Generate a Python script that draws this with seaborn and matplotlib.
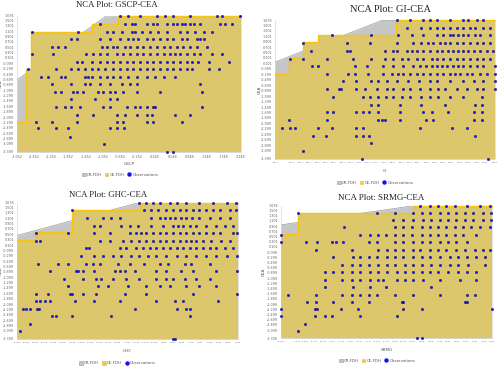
import numpy as np
import pandas as pd
import matplotlib
matplotlib.use("Agg")
import matplotlib.pyplot as plt
import seaborn as sns
from matplotlib.patches import Patch
from matplotlib.lines import Line2D

# ---- data ----
CEA_MIN, CEA_MAX = -3.399, 1.676

# GSCP-CEA
gscp_lim = (-3.052, 2.148)
gscp_ce_x = [-3.052, -2.835, -2.718, -1.322, -0.700, 2.148]
gscp_ce_y = [-2.278, -0.319, 1.065, 1.377, 1.676, 1.676]
gscp_cr_x = [-3.052, -0.972]
gscp_cr_y = [-0.718, 1.676]
gscp_levels = [1.676, 1.377, 1.065, 0.803, 0.529, 0.254, -0.032, -0.319, -0.618,
               -0.868, -1.155, -1.442, -1.716, -2.028, -2.277, -2.526, -2.838, -3.112, -3.399]
gscp_rows = [
    [-0.66, -0.47, -0.20, 0.19, 0.39, 0.58, 0.97, 1.59, 1.71, 2.13],
    [-1.13, -0.55, -0.39, -0.31, -0.04, 0.11, 0.19, 0.43, 0.58, 0.66, 0.77, 0.85, 0.97, 1.05, 1.20, 1.67, 1.78, 1.94],
    [-2.70, -1.63, -0.97, -0.82, -0.62, -0.39, -0.31, -0.16, 0.04, 0.23, 0.43, 0.74, 0.89, 1.08, 1.28, 1.47],
    [-1.79, -1.67, -1.13, -0.90, -0.66, -0.47, -0.35, -0.24, -0.04, 0.11, 0.27, 0.43, 0.58, 0.77, 0.89, 1.12, 1.20, 1.28],
    [-2.25, -2.10, -1.94, -1.09, -0.97, -0.82, -0.74, -0.55, -0.43, -0.27, -0.12, 0.04, 0.19, 0.35, 0.50, 0.66, 0.81, 0.97, 1.12, 1.36],
    [-2.70, -2.21, -1.44, -1.28, -1.13, -0.97, -0.74, -0.58, -0.43, -0.27, -0.12, 0.04, 0.19, 0.35, 0.50, 0.62, 0.74, 0.89, 1.05, 1.20, 1.47, 1.71],
    [-1.67, -1.55, -1.32, -1.13, -0.97, -0.82, -0.66, -0.51, -0.35, -0.20, -0.04, 0.11, 0.27, 0.43, 0.58, 0.74, 0.89, 1.01, 1.16, 1.40, 1.86],
    [-2.80, -2.14, -1.79, -1.63, -1.48, -1.32, -1.17, -1.01, -0.82, -0.66, -0.51, -0.35, -0.20, -0.04, 0.11, 0.27, 0.43, 0.58, 0.74, 0.89, 1.01, 1.40, 1.63],
    [-2.49, -2.33, -2.02, -1.94, -1.48, -1.40, -1.32, -1.13, -0.97, -0.82, -0.66, -0.47, -0.27, -0.04, 0.15, 0.35, 0.62],
    [-2.25, -1.79, -1.48, -1.36, -1.13, -0.90, -0.62, -0.43, -0.27, 1.20],
    [-2.18, -2.02, -1.75, -1.67, -1.52, -1.17, -1.05, -0.90, -0.78, -0.58, -0.27, 0.27, 1.24],
    [-1.79, -1.24, -0.90, -0.74],
    [-2.14, -1.94, -1.79, -1.59, -1.05, -0.90, -0.51, -0.31, -0.20, -0.04, 0.11, 0.15, 1.24],
    [-1.67, -1.28, -0.74, -0.55, -0.27, -0.04, 0.08, 0.62, 0.97],
    [-2.62, -2.23, -1.66, -0.74, -0.58, -0.04, 0.11, 0.77],
    [-2.56, -2.14, -1.87, -0.90, -0.74, -0.57],
    [-1.83],
    [-1.03],
    [0.43, 0.56],
]

# GI-CEA
gi_lim = (-3.677, 1.561)
gi_ce_x = [-3.677, -3.336, -3.002, -2.645, -0.796, 1.561]
gi_ce_y = [-0.276, 0.297, 0.871, 1.127, 1.676, 1.676]
gi_cr_x = [-3.677, -1.137]
gi_cr_y = [0.151, 1.676]
gi_levels = [1.676, 1.408, 1.127, 0.846, 0.566, 0.273, -0.008, -0.276, -0.557, -0.837,
             -1.142, -1.411, -1.691, -1.960, -2.265, -2.545, -2.814, -3.119, -3.399]
gi_rows = [
    [-0.78, -0.46, -0.15, 0.01, 0.17, 0.49, 0.81, 0.93, 1.13, 1.28],
    [-0.54, -0.19, 0.01, 0.17, 0.33, 0.49, 0.65, 0.81, 0.97, 1.09, 1.28, 1.44],
    [-2.33, -1.40, -0.74, -0.42, -0.15, 0.17, 0.33, 0.49, 0.57, 0.69, 0.81, 0.93, 1.09, 1.20, 1.44],
    [-3.00, -1.97, -1.42, -0.78, -0.38, -0.19, -0.03, 0.09, 0.25, 0.37, 0.49, 0.65, 0.81, 0.97, 1.13, 1.28, 1.44],
    [-2.82, -1.97, -1.89, -1.06, -0.86, -0.78, -0.54, -0.42, -0.30, -0.15, 0.01, 0.17, 0.29, 0.45, 0.57, 0.69, 0.81, 0.93, 1.05, 1.20, 1.36, 1.52],
    [-3.32, -3.00, -2.43, -1.81, -1.38, -1.06, -0.86, -0.66, -0.50, -0.30, -0.15, 0.05, 0.17, 0.33, 0.49, 0.65, 0.81, 0.97, 1.13, 1.28, 1.44],
    [-2.80, -2.65, -1.77, -1.49, -1.10, -0.86, -0.62, -0.38, -0.23, -0.07, 0.05, 0.17, 0.29, 0.41, 0.57, 0.69, 0.81, 0.97, 1.13, 1.28, 1.56],
    [-2.43, -1.93, -1.77, -1.46, -1.10, -0.90, -0.74, -0.62, -0.46, -0.30, -0.15, 0.01, 0.17, 0.33, 0.49, 0.61, 0.73, 0.89, 1.01, 1.20, 1.36, 1.56],
    [-2.05, -1.75, -1.38, -1.22, -1.02, -0.78, -0.50, -0.26, 0.01, 0.17, 0.49, 0.81, 1.05, 1.28, 1.56],
    [-2.43, -2.15, -2.11, -1.75, -1.53, -1.26, -1.02, -0.86, -0.62, -0.46, -0.23, 0.01, 0.21, 0.37, 0.65, 0.89, 1.13, 1.28, 1.56],
    [-2.30, -1.59, -1.42, -1.22, -1.03, -0.86, -0.66, -0.46, -0.19, 0.01, 0.21, 0.49, 0.81, 1.24],
    [-1.40, -1.22, -0.70, -0.19, 0.37, 1.09, 1.24],
    [-2.45, -2.29, -1.75, -1.57, -1.43, -1.22, -0.70, -0.15, 0.05, 0.45, 1.06, 1.24],
    [-3.34, -2.43, -1.22, -1.14, -1.06, -0.70, -0.08, 0.08, 1.06, 1.24],
    [-3.52, -3.32, -3.20, -2.65, -2.33, -1.75, -1.57, -0.22, 0.54, 0.89],
    [-2.78, -2.46, -1.75, -1.59, -1.43, 1.09],
    [-1.40],
    [-3.00],
    [-1.61, 1.39],
]

# GHC-CEA
ghc_lim = (-3.060, 1.760)
ghc_ce_x = [-3.060, -2.675, -1.853, -0.385, 1.760]
ghc_ce_y = [0.283, 0.581, 1.402, 1.676, 1.676]
ghc_cr_x = [-3.060, -0.421]
ghc_cr_y = [0.457, 1.676]
ghc_levels = [1.676, 1.402, 1.116, 0.805, 0.532, 0.245, -0.028, -0.314, -0.588, -0.874,
              -1.160, -1.434, -1.720, -1.994, -2.280, -2.554, -2.840, -3.113, -3.399]
ghc_rows = [
    [-0.39, -0.24, -0.09, 0.05, 0.27, 0.42, 0.63, 0.92, 1.22, 1.51, 1.72],
    [-1.85, -0.30, -0.13, 0.02, 0.20, 0.34, 0.49, 0.63, 0.78, 0.92, 1.07, 1.22, 1.36, 1.58, 1.72],
    [-1.53, -1.18, -1.00, -0.82, -0.13, 0.05, 0.16, 0.27, 0.38, 0.52, 0.63, 0.76, 0.92, 1.14, 1.36, 1.58],
    [-1.39, -1.26, -0.79, -0.60, -0.42, -0.13, 0.12, 0.34, 0.45, 0.56, 0.71, 0.85, 1.07, 1.29, 1.47, 1.65],
    [-2.65, -1.95, -1.39, -1.04, -0.60, -0.46, -0.35, -0.24, -0.09, 0.05, 0.20, 0.34, 0.49, 0.63, 0.78, 0.92, 1.07, 1.22, 1.36, 1.65, 1.74],
    [-2.65, -2.55, -1.26, -1.04, -0.75, -0.57, -0.39, -0.24, -0.09, 0.05, 0.20, 0.34, 0.49, 0.63, 0.74, 0.85, 1.00, 1.18, 1.40, 1.58],
    [-1.55, -1.48, -0.82, -0.68, -0.46, -0.31, -0.17, -0.02, 0.12, 0.27, 0.42, 0.56, 0.71, 0.85, 1.00, 1.14, 1.29, 1.47, 1.65],
    [-1.66, -1.37, -1.18, -0.97, -0.79, -0.57, -0.39, -0.20, -0.02, 0.20, 0.42, 0.63, 0.85, 1.07, 1.29, 1.51, 1.74],
    [-2.60, -2.17, -1.95, -1.56, -1.40, -1.26, -0.86, -0.60, -0.28, 0.05, 0.23, 0.60, 0.74, 1.14],
    [-2.35, -1.77, -1.73, -1.62, -1.37, -0.93, -0.82, -0.71, -0.49, -0.02, 0.20, 0.52, 0.78, 1.29, 1.74],
    [-2.04, -1.62, -1.33, -1.22, -0.97, -0.68, -0.39, -0.02, 0.20, 0.34, 0.60, 0.85, 1.14],
    [-1.95, -1.29, -1.08, -0.64, -0.24, 0.05, 0.27, 0.63, 0.92, 1.29],
    [-2.65, -2.38, -1.91, -1.85, -1.62, -1.33, -0.71, -0.24, 0.78, 1.74],
    [-2.65, -2.55, -2.46, -2.35, -1.80, -1.37, -0.82, -0.02, 0.38, 0.56, 1.32],
    [-2.93, -2.87, -2.77, -2.62, -2.58, -0.49, 0.42, 0.63, 0.71],
    [-2.29, -2.20, -1.85, -1.00, 0.72],
    [-2.78],
    [-2.99],
    [0.34, 0.39],
]

# SRMG-CEA
srmg_lim = (-3.087, 1.652)
srmg_ce_x = [-3.087, -2.714, -0.132, 1.652]
srmg_ce_y = [0.602, 1.420, 1.676, 1.676]
srmg_cr_x = [-3.087, -0.132]
srmg_cr_y = [0.947, 1.676]
srmg_levels = [1.676, 1.420, 1.139, 0.883, 0.564, 0.270, -0.012, -0.293, -0.587, -0.881,
               -1.162, -1.444, -1.738, -2.019, -2.288, -2.569, -2.850, -3.144, -3.399]
srmg_rows = [
    [0.03, 0.26, 0.44, 0.63, 0.82, 1.08, 1.38, 1.60],
    [-2.71, -0.94, -0.53, -0.12, 0.07, 0.26, 0.48, 0.67, 0.85, 1.04, 1.23, 1.45, 1.64],
    [-0.57, -0.34, -0.12, 0.11, 0.29, 0.48, 0.67, 0.85, 1.04, 1.23, 1.45, 1.64],
    [-1.68, -0.53, -0.34, -0.15, 0.07, 0.26, 0.44, 0.63, 0.82, 1.00, 1.19, 1.38, 1.60],
    [-3.09, -1.31, -1.09, -0.90, -0.73, -0.53, -0.34, -0.15, 0.07, 0.26, 0.44, 0.63, 0.82, 1.00, 1.30],
    [-3.09, -2.52, -2.28, -1.95, -1.85, -1.70, -1.12, -0.92, -0.53, -0.34, -0.12, 0.07, 0.26, 0.48, 0.67, 0.85, 1.08],
    [-2.30, -1.50, -0.90, -0.71, -0.53, -0.34, -0.12, 0.03, 0.26, 0.44, 0.63, 0.85, 1.04, 1.26, 1.45, 1.60],
    [-1.91, -1.46, -1.31, -1.12, -0.94, -0.71, -0.53, -0.34, -0.12, 0.07, 0.26, 0.48, 0.70, 0.89, 1.08, 1.30, 1.49],
    [-1.72, -1.50, -1.31, -1.12, -0.90, -0.71, -0.53, -0.30, -0.12, 0.07, 0.29, 0.48, 0.70, 0.89, 1.12, 1.49],
    [-2.09, -1.91, -1.72, -1.50, -1.31, -1.09, -0.90, -0.71, -0.49, -0.30, -0.12, 0.07, 0.26, 0.44, 0.67, 0.89, 1.08, 1.30],
    [-2.09, -1.72, -1.50, -1.31, -1.09, -0.90, -0.79, -0.49, -0.30, -0.12, 0.11, 0.48, 0.93, 1.30],
    [-2.09, -1.46, -1.09, -0.73, 0.29],
    [-2.92, -2.30, -1.72, -1.50, -1.31, -1.12, -0.94, -0.53, -0.12, 0.48, 1.08, 1.26],
    [-2.51, -2.30, -1.91, -1.50, -1.10, -0.38, -0.34, 1.04, 1.08],
    [-3.09, -2.32, -2.28, -1.74, -1.36, -0.34, 0.07, 1.65],
    [-3.09, -2.32, -2.09, -1.95, -1.31, -0.49],
    [-2.54],
    [-2.71],
    [-0.04, 0.07],
]

# ---- styling ----
KHAKI = "#DCC76C"
GOLD = "#F4C514"
GRAY = "#C6C6C6"
GRAY_EDGE = "#9A9A9A"
BLUE = "#1414F0"
NAVY = "#000070"

sns.set_style("white")
plt.rcParams["font.family"] = ["DejaVu Sans"]

fig = plt.figure(figsize=(5.0, 3.66), dpi=100)


def tick_list(lo, hi, start, step):
    inner = np.arange(start, hi - step * 0.5, step)
    return [lo] + list(inner) + [hi]


def draw_panel(ax, name, lim, ce_x, ce_y, cr_x, cr_y, levels, rows, xstart, xstep, xsize):
    x0, x1 = lim
    # CR-FDH: straight line, capped at top of scale
    cx = [cr_x[0], cr_x[1], x1]
    cy = [cr_y[0], cr_y[1], CEA_MAX]
    ax.fill_between(cx, cy, CEA_MIN, color=GRAY, lw=0, zorder=1)
    ax.plot(cx, cy, color=GRAY_EDGE, lw=0.5, zorder=1.5)
    # CE-FDH step ceiling
    ax.fill_between(ce_x, ce_y, CEA_MIN, step="post", color=KHAKI, lw=0, zorder=2)
    ax.step(ce_x, ce_y, where="post", color=GOLD, lw=1.0, zorder=3, clip_on=False)

    df = pd.DataFrame({
        name: [x for xs in rows for x in xs],
        "CEA": [lv for lv, xs in zip(levels, rows) for _ in xs],
    })
    sns.scatterplot(data=df, x=name, y="CEA", ax=ax, s=3.2, color=BLUE,
                    edgecolor=NAVY, linewidth=0.25, zorder=5, clip_on=False,
                    legend=False)

    ax.set_xlim(x0, x1)
    ax.set_ylim(CEA_MIN, CEA_MAX)
    xt = tick_list(x0, x1, xstart, xstep)
    yt = tick_list(CEA_MIN, CEA_MAX, -3.099, 0.2)
    ax.set_xticks(xt)
    ax.set_xticklabels([f"{v:.3f}" for v in xt])
    ax.set_yticks(yt)
    ax.set_yticklabels([f"{v:.3f}" for v in yt])
    ax.tick_params(labelsize=2.4, colors="#666666", length=1.2, width=0.3, pad=1)
    ax.tick_params(axis="x", labelsize=xsize)
    for side in ["top", "right"]:
        ax.spines[side].set_visible(False)
    for side in ["left", "bottom"]:
        ax.spines[side].set_color("#CCCCCC")
        ax.spines[side].set_linewidth(0.4)
    ax.set_xlabel(name, fontsize=3, color="#555555")
    ax.set_ylabel("CEA", fontsize=3, color="#555555")


panels = [
    ("GSCP", gscp_lim, gscp_ce_x, gscp_ce_y, gscp_cr_x, gscp_cr_y, gscp_levels, gscp_rows, -2.652, 0.4, 2.4,
     [0.034, 0.585, 0.448, 0.372], (0.234, 0.986, 6.3), (0.24, 0.522), -0.063),
    ("GI", gi_lim, gi_ce_x, gi_ce_y, gi_cr_x, gi_cr_y, gi_levels, gi_rows, -3.277, 0.2, 1.55,
     [0.55, 0.566, 0.44, 0.378], (0.782, 0.975, 7.5), (0.75, 0.501), -0.059),
    ("GHC", ghc_lim, ghc_ce_x, ghc_ce_y, ghc_cr_x, ghc_cr_y, ghc_levels, ghc_rows, -2.860, 0.2, 1.6,
     [0.034, 0.074, 0.442, 0.372], (0.217, 0.467, 6.3), (0.235, 0.008), -0.063),
    ("SRMG", srmg_lim, srmg_ce_x, srmg_ce_y, srmg_cr_x, srmg_cr_y, srmg_levels, srmg_rows, -2.727, 0.2, 1.6,
     [0.562, 0.0765, 0.422, 0.361], (0.763, 0.459, 6.5), (0.754, 0.014), -0.071),
]

handles = [
    Patch(facecolor=GRAY, edgecolor=GRAY_EDGE, lw=0.4),
    Patch(facecolor=KHAKI, edgecolor=GOLD, lw=0.4),
    Line2D([], [], marker="o", ls="", color=BLUE, markersize=2.2),
]

for (name, lim, cex, cey, crx, cry, lv, rw, xs, st, xsz, rect, title, leg, ylab) in panels:
    ax = fig.add_axes(rect)
    draw_panel(ax, name, lim, cex, cey, crx, cry, lv, rw, xs, st, xsz)
    ax.xaxis.set_label_coords(0.5, -0.072)
    ax.yaxis.set_label_coords(ylab, 0.5)
    fig.text(title[0], title[1], f"NCA Plot: {name}-CEA", ha="center", va="center",
             fontsize=title[2], family="Liberation Serif", color="#222222")
    fig.legend(handles, ["CR-FDH", "CE-FDH", "Observations"], loc="center",
               bbox_to_anchor=leg, ncol=3, fontsize=2.8, frameon=False,
               handlelength=1.0, handleheight=1.0, handletextpad=0.3,
               columnspacing=0.8, labelcolor="#555555")

fig.savefig("out.png", dpi=100)
